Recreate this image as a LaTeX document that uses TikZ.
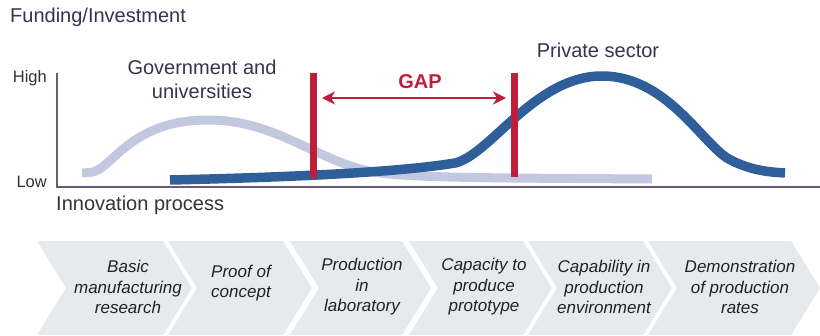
\documentclass[tikz,border=0pt]{standalone}
\usepackage{fontspec}
\setmainfont{Liberation Sans}
\usetikzlibrary{arrows.meta}
\definecolor{gapred}{HTML}{BE1E3C}
\definecolor{darkblue}{HTML}{2E5F9A}
\definecolor{lightblue}{HTML}{C1C8E0}
\definecolor{labelpurple}{HTML}{3D2F4F}
\definecolor{axiscol}{HTML}{6B5A78}
\definecolor{chevfill}{HTML}{E6EAEC}
\definecolor{steptext}{HTML}{222222}
\tikzset{
  lbl/.style={inner sep=0pt, text=labelpurple, font=\fontsize{20}{24}\selectfont, align=center},
  axislbl/.style={inner sep=0pt, text=black!80, font=\fontsize{16.5}{20}\selectfont},
  stepbox/.style={fill=chevfill, draw=none},
  steptxt/.style={inner sep=0pt, text=steptext, align=center, font=\fontsize{17}{20.5}\selectfont\itshape},
  gapline/.style={draw=gapred, line width=7pt},
}
\begin{document}
\begin{tikzpicture}[x=1pt,y=-1pt]
\useasboundingbox[fill=white] (0,0) rectangle (820,335);

% labels
\node[lbl, anchor=west] (fund) at (10,17) {Funding/Investment};
\node[axislbl, anchor=east] (high) at (47,78) {High};
\node[axislbl, anchor=east] (low) at (47,182) {Low};
\node[lbl, anchor=west, text=black!80] (innov) at (56,205) {Innovation process};
\node[lbl] (gov) at (202,79) {Government and\\universities};
\node[lbl] (priv) at (598,50) {Private sector};

% axes
\coordinate (origin) at (57,187);
\coordinate (ytop) at (57,73);
\coordinate (xend) at (820,187);
\draw[axiscol, line width=1.5pt] (ytop) -- (origin) -- (xend);

% curves
\draw[lightblue, line width=9pt] (82,173) -- (90,172.5) .. controls (112,171) and (128,120) .. (208,120)
  .. controls (280,120) and (320,165) .. (380,173)
  .. controls (420,178) and (500,178) .. (652,179);
\draw[darkblue, line width=9.5pt] (170,180) .. controls (300,177) and (400,172) .. (455,163)
  .. controls (490,155) and (535,76) .. (602,76)
  .. controls (665,76) and (700,140) .. (727,158)
  .. controls (750,171) and (770,172) .. (785,173);

% gap markers
\coordinate (g1t) at (313,73);
\coordinate (g1b) at (313,178);
\coordinate (g2t) at (514,73);
\coordinate (g2b) at (514,177);
\draw[gapline] (g1t) -- (g1b);
\draw[gapline] (g2t) -- (g2b);
\coordinate (a1) at (322,98);
\coordinate (a2) at (506,98);
\draw[gapred, line width=2pt, {Stealth[length=13pt,width=13pt,inset=4pt]}-{Stealth[length=13pt,width=13pt,inset=4pt]}] (a1) -- (a2);
\node[inner sep=0pt, text=gapred, font=\fontsize{20}{24}\selectfont\bfseries] (gap) at (420,82) {GAP};

% chevrons
\foreach \L/\R [count=\i] in {37/163, 168/283, 290/402, 409/523, 528/643, 648/791}{
  \path[stepbox] (\L,241) -- (\R,241) -- (\R+29,288) -- (\R,335) -- (\L,335) -- (\L+29,288) -- cycle;
}
\node[steptxt] (s1) at (128,287) {Basic\\manufacturing\\research};
\node[steptxt] (s2) at (241,283) {Proof of\\concept};
\node[steptxt] (s3) at (362,287) {Production\\in\\laboratory};
\node[steptxt] (s4) at (484,287) {Capacity to\\produce\\prototype};
\node[steptxt] (s5) at (604,287) {Capability in\\production\\environment};
\node[steptxt] (s6) at (740,287) {Demonstration\\of production\\rates};
\end{tikzpicture}
\end{document}
